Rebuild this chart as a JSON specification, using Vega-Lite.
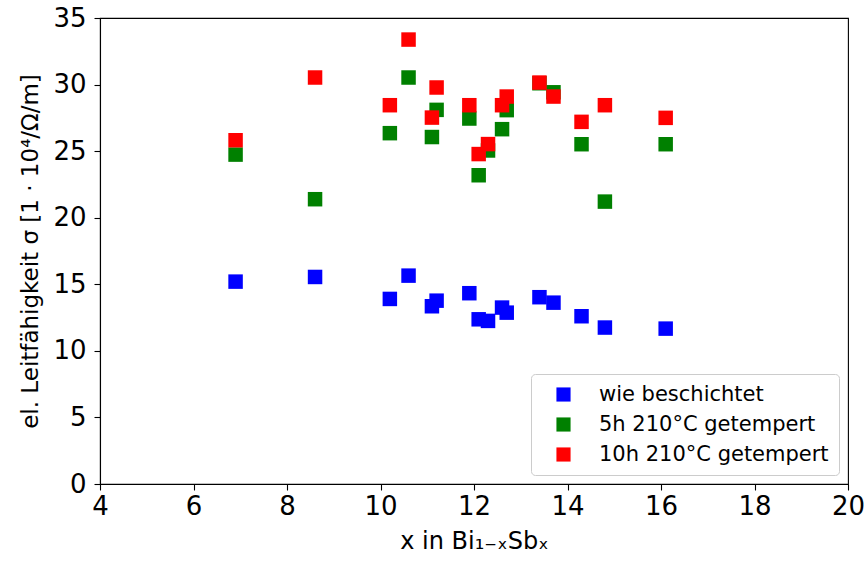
{
  "$schema": "https://vega.github.io/schema/vega-lite/v6.json",
  "width": 748,
  "height": 466,
  "autosize": "none",
  "padding": {"left": 100, "top": 18, "right": 18, "bottom": 79},
  "background": "white",
  "data": {
    "values": [
      {"x": 6.9, "sigma": 15.2, "series": "wie beschichtet"},
      {"x": 8.6, "sigma": 15.55, "series": "wie beschichtet"},
      {"x": 10.2, "sigma": 13.9, "series": "wie beschichtet"},
      {"x": 10.6, "sigma": 15.65, "series": "wie beschichtet"},
      {"x": 11.1, "sigma": 13.35, "series": "wie beschichtet"},
      {"x": 11.2, "sigma": 13.77, "series": "wie beschichtet"},
      {"x": 11.9, "sigma": 14.33, "series": "wie beschichtet"},
      {"x": 12.1, "sigma": 12.37, "series": "wie beschichtet"},
      {"x": 12.3, "sigma": 12.25, "series": "wie beschichtet"},
      {"x": 12.6, "sigma": 13.25, "series": "wie beschichtet"},
      {"x": 12.7, "sigma": 12.87, "series": "wie beschichtet"},
      {"x": 13.4, "sigma": 14.03, "series": "wie beschichtet"},
      {"x": 13.7, "sigma": 13.62, "series": "wie beschichtet"},
      {"x": 14.3, "sigma": 12.6, "series": "wie beschichtet"},
      {"x": 14.8, "sigma": 11.75, "series": "wie beschichtet"},
      {"x": 16.1, "sigma": 11.67, "series": "wie beschichtet"},
      {"x": 6.9, "sigma": 24.74, "series": "5h 210°C getempert"},
      {"x": 8.6, "sigma": 21.39, "series": "5h 210°C getempert"},
      {"x": 10.2, "sigma": 26.35, "series": "5h 210°C getempert"},
      {"x": 10.6, "sigma": 30.53, "series": "5h 210°C getempert"},
      {"x": 11.1, "sigma": 26.06, "series": "5h 210°C getempert"},
      {"x": 11.2, "sigma": 28.1, "series": "5h 210°C getempert"},
      {"x": 11.9, "sigma": 27.45, "series": "5h 210°C getempert"},
      {"x": 12.1, "sigma": 23.19, "series": "5h 210°C getempert"},
      {"x": 12.3, "sigma": 25.05, "series": "5h 210°C getempert"},
      {"x": 12.6, "sigma": 26.65, "series": "5h 210°C getempert"},
      {"x": 12.7, "sigma": 28.08, "series": "5h 210°C getempert"},
      {"x": 13.4, "sigma": 30.1, "series": "5h 210°C getempert"},
      {"x": 13.7, "sigma": 29.42, "series": "5h 210°C getempert"},
      {"x": 14.3, "sigma": 25.52, "series": "5h 210°C getempert"},
      {"x": 14.8, "sigma": 21.21, "series": "5h 210°C getempert"},
      {"x": 16.1, "sigma": 25.52, "series": "5h 210°C getempert"},
      {"x": 6.9, "sigma": 25.82, "series": "10h 210°C getempert"},
      {"x": 8.6, "sigma": 30.53, "series": "10h 210°C getempert"},
      {"x": 10.2, "sigma": 28.45, "series": "10h 210°C getempert"},
      {"x": 10.6, "sigma": 33.38, "series": "10h 210°C getempert"},
      {"x": 11.1, "sigma": 27.52, "series": "10h 210°C getempert"},
      {"x": 11.2, "sigma": 29.78, "series": "10h 210°C getempert"},
      {"x": 11.9, "sigma": 28.45, "series": "10h 210°C getempert"},
      {"x": 12.1, "sigma": 24.78, "series": "10h 210°C getempert"},
      {"x": 12.3, "sigma": 25.53, "series": "10h 210°C getempert"},
      {"x": 12.6, "sigma": 28.45, "series": "10h 210°C getempert"},
      {"x": 12.7, "sigma": 29.1, "series": "10h 210°C getempert"},
      {"x": 13.4, "sigma": 30.15, "series": "10h 210°C getempert"},
      {"x": 13.7, "sigma": 29.1, "series": "10h 210°C getempert"},
      {"x": 14.3, "sigma": 27.2, "series": "10h 210°C getempert"},
      {"x": 14.8, "sigma": 28.45, "series": "10h 210°C getempert"},
      {"x": 16.1, "sigma": 27.5, "series": "10h 210°C getempert"}
    ]
  },
  "mark": {"type": "point", "shape": "square", "filled": true, "opacity": 1, "size": 210, "strokeWidth": 0},
  "encoding": {
    "x": {
      "field": "x", "type": "quantitative",
      "scale": {"domain": [4, 20], "nice": false, "zero": false},
      "axis": {"values": [4, 6, 8, 10, 12, 14, 16, 18, 20], "title": "x in Bi₁₋ₓSbₓ", "titleFontSize": 24, "titlePadding": 10, "labelPadding": 3, "labelFlush": false}
    },
    "y": {
      "field": "sigma", "type": "quantitative",
      "scale": {"domain": [0, 35], "nice": false},
      "axis": {"values": [0, 5, 10, 15, 20, 25, 30, 35], "title": "el. Leitfähigkeit σ  [1 · 10⁴/Ω/m]", "titlePadding": 10, "labelPadding": 8, "labelFlush": false}
    },
    "color": {
      "field": "series", "type": "nominal",
      "scale": {
        "domain": ["wie beschichtet", "5h 210°C getempert", "10h 210°C getempert"],
        "range": ["#0000ff", "#008000", "#ff0000"]
      },
      "legend": {
        "title": null,
        "orient": "none",
        "legendX": 431,
        "legendY": 356,
        "symbolType": "square",
        "symbolSize": 200,
        "symbolStrokeWidth": 0,
        "symbolOffset": 12,
        "labelFontSize": 21,
        "labelLimit": 400,
        "labelOffset": 25,
        "rowPadding": 8,
        "padding": 10,
        "strokeColor": "#cccccc",
        "fillColor": "rgba(255,255,255,0.8)",
        "cornerRadius": 4,
        "offset": 0
      }
    }
  },
  "config": {
    "font": "DejaVu Sans",
    "view": {"stroke": "black", "strokeWidth": 1.1},
    "axis": {
      "grid": false,
      "domainColor": "black",
      "domainWidth": 1.1,
      "tickColor": "black",
      "tickSize": 6,
      "tickWidth": 1.1,
      "labelFont": "DejaVu Sans",
      "labelFontSize": 26,
      "labelColor": "black",
      "titleFont": "DejaVu Sans",
      "titleFontSize": 23,
      "titleFontWeight": "normal",
      "titleColor": "black"
    },
    "legend": {
      "labelFont": "DejaVu Sans",
      "labelColor": "black"
    }
  }
}
